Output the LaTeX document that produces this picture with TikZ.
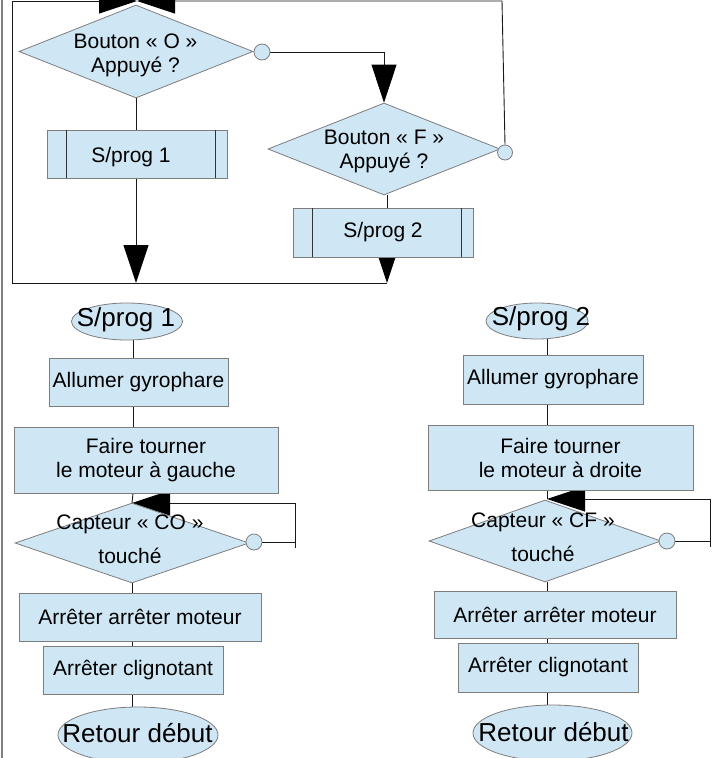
\documentclass[tikz,border=0pt]{standalone}
\usepackage{fontspec}
\setmainfont{Liberation Sans}
\usetikzlibrary{shapes.geometric,arrows.meta,calc}
\definecolor{fillblue}{RGB}{207,231,245}
\definecolor{edgegray}{RGB}{125,125,125}
\pgfdeclarelayer{back}
\pgfdeclarelayer{bg}
\pgfsetlayers{back,bg,main}
\begin{document}
\begin{tikzpicture}[x=1pt,y=-1pt,
  shp/.style={draw=edgegray,fill=fillblue,line width=0.8pt,inner sep=0pt},
  box/.style={shp,rectangle,font=\fontsize{21}{24}\selectfont,align=center},
  dia/.style={shp,diamond},
  ell/.style={shp,ellipse},
  knob/.style={shp,circle,minimum size=16pt},
  conn/.style={draw=black!90,line width=0.9pt},
  arr/.style={conn,-{Triangle[length=38pt,width=25pt,color=black]}},
  txt/.style={font=\fontsize{21}{24}\selectfont,align=center,inner sep=0pt},
  txtwide/.style={font=\fontsize{21}{34}\selectfont,align=center,inner sep=0pt},
  bigtxt/.style={font=\fontsize{26}{30}\selectfont,inner sep=0pt},
  inner/.style={draw=black!80,line width=0.8pt}
]
\useasboundingbox (0,0) rectangle (720,758);
\begin{pgfonlayer}{back}
  \fill[white] (0,0) rectangle (720,758);
\end{pgfonlayer}

% ---------- top part ----------
\node[dia,minimum width=234pt,minimum height=93pt] (d1) at (136,51.5) {};
\node[txt] (d1t) at (135.5,55) {Bouton « O »\\Appuyé ?};
\node[knob] (c1) at (262,52) {};

\node[dia,minimum width=232pt,minimum height=92pt] (d2) at (384,149) {};
\node[txt] (d2t) at (384,151.7) {Bouton « F »\\Appuyé ?};
\node[knob,minimum size=15pt] (c2) at (505,152.5) {};

\node[box,minimum width=180pt,minimum height=48pt] (p1) at (137,154) {};
\node[txt] (p1t) at (131,157) {S/prog 1};
\draw[inner] ($(p1.north west)+(20,0)$) -- ($(p1.south west)+(20,0)$);
\draw[inner] ($(p1.north east)+(-12,0)$) -- ($(p1.south east)+(-12,0)$);

\node[box,minimum width=180pt,minimum height=49pt] (p2) at (383,232.5) {S/prog 2};
\draw[inner] ($(p2.north west)+(20,0)$) -- ($(p2.south west)+(20,0)$);
\draw[inner] ($(p2.north east)+(-12,0)$) -- ($(p2.south east)+(-12,0)$);

\coordinate (j1) at (136,283);
\coordinate (j2) at (387,283);
\coordinate (lb) at (12,283);
\coordinate (lt) at (12,1);
\coordinate (apex) at (137,1);
\coordinate (rt) at (502,1);

% ---------- left subroutine ----------
\coordinate (col1) at (133,0);
\node[ell,minimum width=111pt,minimum height=37pt] (e1) at (127,321.5) {};
\node[bigtxt] (e1t) at (126,320) {S/prog 1};
\node[box,minimum width=179pt,minimum height=48pt] (a1) at (138.5,382) {Allumer gyrophare};
\node[box,minimum width=264pt,minimum height=66pt] (f1) at (146,460) {Faire tourner\\le moteur à gauche};
\node[dia,minimum width=234pt,minimum height=80pt] (d3) at (132,543) {};
\node[txtwide] (d3t) at (130,539.5) {Capteur « CO »\\touché};
\node[knob] (c3) at (254,542) {};
\node[box,minimum width=242pt,minimum height=48pt] (m1) at (140,617) {Arrêter arrêter moteur};
\node[box,minimum width=180pt,minimum height=48pt] (k1) at (133,670) {Arrêter clignotant};
\node[ell,minimum width=160pt,minimum height=56pt] (r1) at (138,735) {};
\node[bigtxt] (r1t) at (137.5,733.5) {Retour début};
\coordinate (t3) at (132,503);
\coordinate (r3) at (295,503);
\coordinate (r3b) at (295,548);

% ---------- right subroutine ----------
\coordinate (col2) at (547,0);
\node[ell,minimum width=102pt,minimum height=36pt] (e2) at (537,321) {};
\node[bigtxt] (e2t) at (541,318.5) {S/prog 2};
\node[box,minimum width=180pt,minimum height=49pt] (a2) at (553,379.5) {Allumer gyrophare};
\node[box,minimum width=265pt,minimum height=65pt] (f2) at (560.5,457.5) {Faire tourner\\le moteur à droite};
\node[dia,minimum width=232pt,minimum height=82pt] (d4) at (545,541) {};
\node[txtwide] (d4t) at (543,537.5) {Capteur « CF »\\touché};
\node[knob] (c4) at (667,541) {};
\node[box,minimum width=242pt,minimum height=47pt] (m2) at (555,614.5) {Arrêter arrêter moteur};
\node[box,minimum width=180pt,minimum height=49pt] (k2) at (548,667.5) {Arrêter clignotant};
\node[ell,minimum width=159pt,minimum height=56pt] (r2) at (552.5,733) {};
\node[bigtxt] (r2t) at (553.5,732) {Retour début};
\coordinate (t4) at (547,499);
\coordinate (r4) at (710,499);
\coordinate (r4b) at (710,547);

% ---------- connectors (behind shapes) ----------
\begin{pgfonlayer}{bg}
  \draw[gray,line width=1.2pt] (2,0) -- (2,758);
  \draw[conn] (d1.south) -- (p1.north -| d1.south);
  \draw[arr] (p1.south -| j1) -- (j1);
  \draw[arr] (c1.east) -| (d2.north);
  \draw[conn] (d2.south -| j2) -- (p2.north -| j2);
  \draw[arr] (p2.south -| j2) -- (j2);
  \draw[conn] (j2) -- (lb) -- (lt);
  \draw[arr] (lt) -- (apex);
  \draw[arr] (c2.north) -- (rt) -- (apex);

  \draw[conn] (e1.south -| col1) -- (a1.north -| col1);
  \draw[conn] (a1.south -| col1) -- (f1.north -| col1);
  \draw[conn] (f1.south -| col1) -- (t3);
  \draw[conn] (c3.east) -- (c3.east -| r3);
  \draw[arr] (r3b) -- (r3) -- (t3);
  \draw[conn] (d3.south) -- (m1.north -| d3.south);
  \draw[conn] (m1.south -| d3.south) -- (k1.north -| d3.south);
  \draw[conn] (k1.south -| d3.south) -- (r1.north -| d3.south);

  \draw[conn] (e2.south -| col2) -- (a2.north -| col2);
  \draw[conn] (a2.south -| col2) -- (f2.north -| col2);
  \draw[conn] (f2.south -| col2) -- (t4);
  \draw[conn] (c4.east) -- (c4.east -| r4);
  \draw[arr] (r4b) -- (r4) -- (t4);
  \draw[conn] (d4.south -| col2) -- (m2.north -| col2);
  \draw[conn] (m2.south -| col2) -- (k2.north -| col2);
  \draw[conn] (k2.south -| col2) -- (r2.north -| col2);
\end{pgfonlayer}
\end{tikzpicture}
\end{document}
